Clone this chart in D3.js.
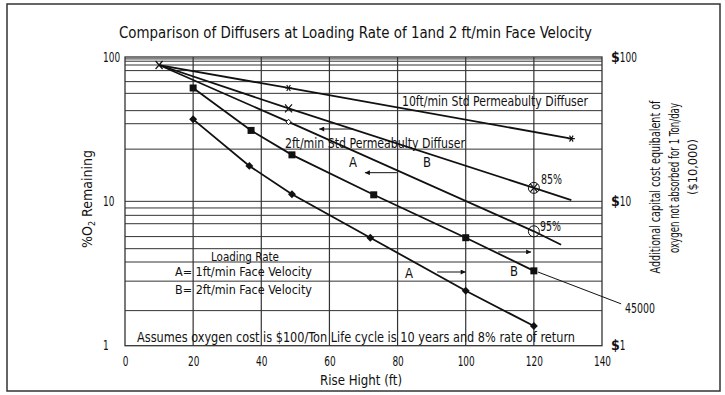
<!DOCTYPE html>
<html>
<head>
<meta charset="utf-8">
<script src="https://cdn.jsdelivr.net/npm/d3@7"></script>
<style>
  html, body { margin: 0; padding: 0; background: #fff; }
  svg { display: block; }
  text { font-family: "Liberation Sans Narrow", "DejaVu Sans Condensed", "DejaVu Sans", sans-serif; font-stretch: condensed; fill: #111; }
</style>
</head>
<body>
<svg id="chart" width="725" height="395"></svg>
<script>
// ---- data ----
const xTicks = [0, 20, 40, 60, 80, 100, 120, 140];
const yTicks = [1, 10, 100];
const yTickLabels = ["1", "10", "100"];
const costLabels = ["1", "10", "100"];
// horizontal rules drawn across the plot (log paper)
const gridValues = [97, 93.5, 88, 80.5, 67.5, 56, 42.5, 34.5, 23, 9, 8, 7, 5.7, 4.7, 3.8, 2.8, 1.75];
const xGrid = [20, 40, 60, 80, 100, 120];

// 10 ft/min standard permeability diffuser
const riseStar = [10, 48, 131];
const o2Star = [88, 61, 27.2];
// upper line through 85% point
const riseX = [10, 48, 120, 131];
const o2X = [88, 44, 12.4, 10.2];
// 2 ft/min standard permeability diffuser, through 95% point
const riseOpen = [10, 48, 120, 128];
const o2Open = [88, 35.5, 6.2, 5.0];
// B = 2 ft/min face velocity
const riseSquare = [20, 37, 49, 73, 100, 120];
const o2Square = [61, 31, 21, 11.1, 5.6, 3.3];
// A = 1 ft/min face velocity
const riseDiamond = [20, 36.5, 49, 72, 100, 120];
const o2Diamond = [37, 17.6, 11.2, 5.6, 2.4, 1.37];

// ---- scales ----
const svg = d3.select("#chart");
const x = d3.scaleLinear().domain([0, 140]).range([125, 602]);
const y = d3.scaleLog().domain([1, 100]).range([345.7, 57]);

const ink = "#111";
const digitW = 5.7;

// outer frame
svg.append("rect").attr("x", 7).attr("y", 4).attr("width", 713).attr("height", 387)
  .attr("fill", "none").attr("stroke", "#333").attr("stroke-width", 1.5);

// title
svg.append("text").attr("x", 119).attr("y", 38)
  .attr("font-size", 16).attr("textLength", 473).attr("lengthAdjust", "spacingAndGlyphs")
  .text("Comparison of Diffusers at Loading Rate of 1and 2 ft/min Face Velocity");

// grid
const g = svg.append("g");
g.selectAll("line.h").data(gridValues).join("line")
  .attr("x1", x(0)).attr("x2", x(140))
  .attr("y1", d => y(d)).attr("y2", d => y(d))
  .attr("stroke", "#333").attr("stroke-width", 1);
g.selectAll("line.v").data(xGrid).join("line")
  .attr("x1", d => x(d)).attr("x2", d => x(d))
  .attr("y1", y(100)).attr("y2", y(1))
  .attr("stroke", "#333").attr("stroke-width", 1.2);
g.append("rect").attr("x", x(0)).attr("y", y(100))
  .attr("width", x(140) - x(0)).attr("height", y(1) - y(100))
  .attr("fill", "none").attr("stroke", "#333").attr("stroke-width", 1.3);
// decade rule
g.selectAll("line.d").data([10]).join("line")
  .attr("x1", x(0)).attr("x2", x(140))
  .attr("y1", d => y(d)).attr("y2", d => y(d))
  .attr("stroke", "#333").attr("stroke-width", 1);

// bottom axis labels
const xAxis = d3.axisBottom(x).tickValues(xTicks).tickSize(0).tickPadding(10).tickFormat(d3.format("d"));
const xa = svg.append("g").attr("transform", `translate(0,${y(1)})`).call(xAxis);
xa.select(".domain").remove();
xa.selectAll("text")
  .attr("font-size", 14).attr("font-family", null).attr("fill", ink)
  .attr("textLength", d => String(d).length * digitW).attr("lengthAdjust", "spacingAndGlyphs");

// left labels
svg.selectAll("text.yl").data(yTicks).join("text")
  .attr("x", 103).attr("y", d => y(d) + 4.5)
  .attr("font-size", 14)
  .attr("textLength", (d, i) => yTickLabels[i].length * digitW).attr("lengthAdjust", "spacingAndGlyphs")
  .text((d, i) => yTickLabels[i]);

// right cost labels ($ in bold)
const cl = svg.selectAll("text.cl").data(yTicks).join("text")
  .attr("x", 611).attr("y", d => y(d) + 4.5)
  .attr("font-size", 14);
cl.append("tspan").attr("font-weight", "bold").text("$");
cl.append("tspan").attr("textLength", (d, i) => costLabels[i].length * digitW)
  .attr("lengthAdjust", "spacingAndGlyphs").text((d, i) => costLabels[i]);

// axis titles
svg.append("text").attr("x", 320).attr("y", 385)
  .attr("font-size", 14.5).attr("textLength", 82).attr("lengthAdjust", "spacingAndGlyphs")
  .text("Rise Hight (ft)");
const yl = svg.append("text").attr("transform", "translate(92,199) rotate(-90)")
  .attr("text-anchor", "middle").attr("font-size", 14);
yl.append("tspan").text("%O");
yl.append("tspan").attr("font-size", 9).attr("dy", 3).text("2");
yl.append("tspan").attr("dy", -3).text(" Remaining");

const rightTitle = [
  { t: "Additional capital cost equibalent of", cx: 660, cy: 187, len: 173, fs: 14.5 },
  { t: "oxygen not absorbed for 1 Ton/day", cx: 679, cy: 178, len: 150, fs: 14.5 },
  { t: "($10,000)", cx: 697, cy: 167, len: 56, fs: 13 }
];
svg.selectAll("text.rt").data(rightTitle).join("text")
  .attr("transform", d => `translate(${d.cx},${d.cy}) rotate(-90)`)
  .attr("text-anchor", "middle").attr("font-size", d => d.fs)
  .attr("textLength", d => d.len).attr("lengthAdjust", "spacingAndGlyphs")
  .text(d => d.t);

// ---- series lines ----
const line = d3.line().x(d => x(d[0])).y(d => y(d[1]));
const series = [
  d3.zip(riseStar, o2Star),
  d3.zip(riseX, o2X),
  d3.zip(riseOpen, o2Open),
  d3.zip(riseSquare, o2Square),
  d3.zip(riseDiamond, o2Diamond)
];
svg.selectAll("path.s").data(series).join("path")
  .attr("d", line).attr("fill", "none").attr("stroke", ink).attr("stroke-width", 1.8);

// markers
const sq = d3.zip(riseSquare, o2Square);
svg.selectAll("rect.m").data(sq).join("rect")
  .attr("x", d => x(d[0]) - 3.5).attr("y", d => y(d[1]) - 3.5)
  .attr("width", 7).attr("height", 7).attr("fill", ink);

const dm = d3.zip(riseDiamond, o2Diamond);
svg.selectAll("path.dm").data(dm).join("path")
  .attr("d", d3.symbol(d3.symbolDiamond2, 40))
  .attr("transform", d => `translate(${x(d[0])},${y(d[1])})`)
  .attr("fill", ink);

// asterisks on the 10 ft/min line
const star = d3.zip(riseStar, o2Star).slice(1);
svg.selectAll("path.st").data(star).join("path")
  .attr("d", "M-3.5,0H3.5M-1.8,-3L1.8,3M-1.8,3L1.8,-3")
  .attr("transform", d => `translate(${x(d[0])},${y(d[1])})`)
  .attr("stroke", ink).attr("stroke-width", 1.1).attr("fill", "none");

// X marks
const xPts = d3.zip(riseX, o2X).slice(0, 3);
svg.selectAll("path.xm").data(xPts).join("path")
  .attr("d", "M-3.5,-4L3.5,4M-3.5,4L3.5,-4")
  .attr("transform", d => `translate(${x(d[0])},${y(d[1])})`)
  .attr("stroke", ink).attr("stroke-width", 1.2).attr("fill", "none");

// open diamond on the 2 ft/min std line
const od = [d3.zip(riseOpen, o2Open)[1]];
svg.selectAll("path.od").data(od).join("path")
  .attr("d", d3.symbol(d3.symbolDiamond2, 18))
  .attr("transform", d => `translate(${x(d[0])},${y(d[1])})`)
  .attr("fill", "#fff").attr("stroke", ink).attr("stroke-width", 1);

// efficiency circles at 120 ft
const circ = [d3.zip(riseX, o2X)[2], d3.zip(riseOpen, o2Open)[2]];
svg.selectAll("circle.c").data(circ).join("circle")
  .attr("cx", d => x(d[0])).attr("cy", d => y(d[1])).attr("r", 5.5)
  .attr("fill", "none").attr("stroke", ink).attr("stroke-width", 1);

// ---- annotations ----
svg.append("defs").append("marker").attr("id", "ah")
  .attr("viewBox", "0 0 10 10").attr("refX", 10).attr("refY", 5)
  .attr("markerWidth", 7).attr("markerHeight", 5).attr("orient", "auto")
  .attr("markerUnits", "userSpaceOnUse")
  .append("path").attr("d", "M0,0L10,5L0,10Z").attr("fill", ink);

const arrows = [
  { from: [67, 31.7], to: [57, 31.7] },
  { from: [79.8, 15.8], to: [70.4, 15.8] },
  { from: [109.5, 4.46], to: [119.2, 4.46] },
  { from: [91.6, 3.24], to: [100, 3.24] }
];
svg.selectAll("line.ar").data(arrows).join("line")
  .attr("x1", d => x(d.from[0])).attr("y1", d => y(d.from[1]))
  .attr("x2", d => x(d.to[0])).attr("y2", d => y(d.to[1]))
  .attr("stroke", ink).attr("stroke-width", 1).attr("marker-end", "url(#ah)");

// leader to the 45000 note
svg.append("line")
  .attr("x1", x(121.2)).attr("y1", y(3.24)).attr("x2", x(145.6)).attr("y2", y(1.95))
  .attr("stroke", ink).attr("stroke-width", 1);

const notes = [
  { t: "10ft/min Std Permeabulty Diffuser", x: 402, y: 106, len: 186, fs: 13.5 },
  { t: "2ft/min Std Permeabulty Diffuser", x: 285, y: 148, len: 180, fs: 13.5 },
  { t: "A", x: 349, y: 167, len: 8, fs: 13.5 },
  { t: "B", x: 423, y: 167, len: 8, fs: 13.5 },
  { t: "85%", x: 541, y: 184, len: 21, fs: 13.5 },
  { t: "95%", x: 540, y: 231, len: 21, fs: 13.5 },
  { t: "Loading Rate", x: 211, y: 261, len: 68, fs: 12.5 },
  { t: "A= 1ft/min Face Velocity", x: 175, y: 276, len: 137, fs: 12.5 },
  { t: "B= 2ft/min Face Velocity", x: 175, y: 294, len: 137, fs: 12.5 },
  { t: "A", x: 405, y: 278, len: 8, fs: 13.5 },
  { t: "B", x: 510, y: 276, len: 8, fs: 13.5 },
  { t: "45000", x: 625, y: 313, len: 30, fs: 13.5 },
  { t: "Assumes oxygen cost is $100/Ton Life cycle is 10 years and 8% rate of return", x: 137, y: 342, len: 438, fs: 13.5 }
];
svg.selectAll("text.n").data(notes).join("text")
  .attr("x", d => d.x).attr("y", d => d.y).attr("font-size", d => d.fs)
  .attr("textLength", d => d.len).attr("lengthAdjust", "spacingAndGlyphs")
  .text(d => d.t);
</script>
</body>
</html>
